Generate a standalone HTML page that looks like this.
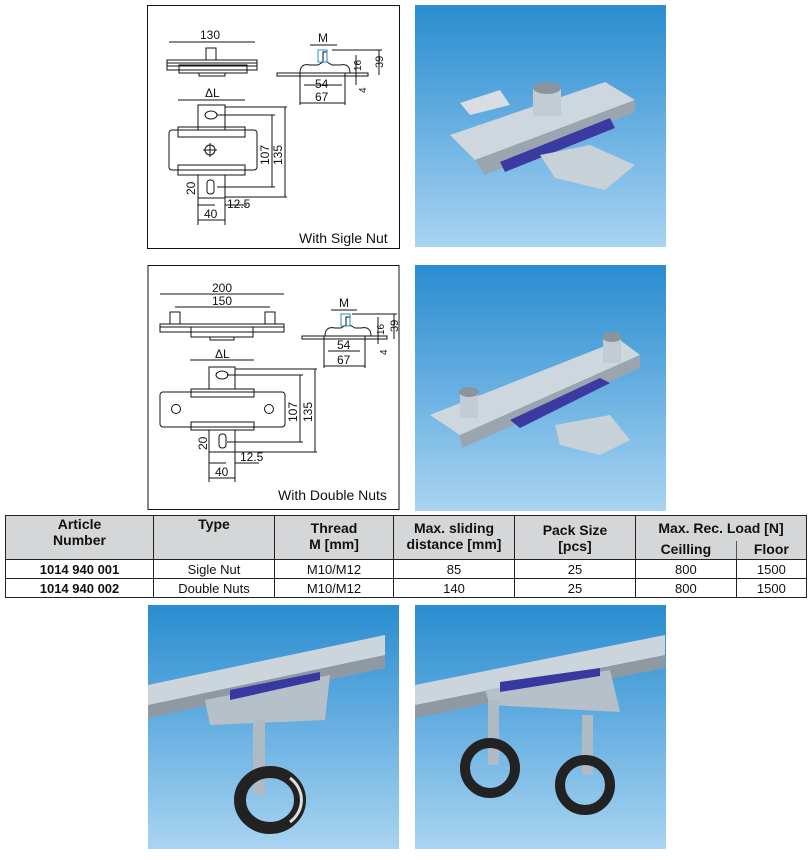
<!DOCTYPE html>
<html><head><meta charset="utf-8"><style>
body{margin:0;background:#fff;width:812px;height:860px;position:relative;overflow:hidden;font-family:"Liberation Sans",Arial,sans-serif}
.ph{position:absolute;background:linear-gradient(#2a8dcf,#5aa8de 40%,#a9d4f1 100%)}
table{position:absolute;left:5px;top:515px;width:802px;border-collapse:collapse;font-size:13px;color:#111}
td{border:1px solid #222;text-align:center;padding:0;height:18px}
.h td{background:#d4d6d8;font-weight:bold;font-size:14px;vertical-align:top;line-height:16px}
</style></head><body>
<svg width="812" height="860" style="position:absolute;left:0;top:0" font-family="Liberation Sans, Arial, sans-serif" stroke="#111" fill="none" stroke-width="1">
<!-- drawing 1 -->
<g transform="translate(147,5)">
<rect x="0.5" y="0.5" width="252" height="243" stroke-width="1"/>
<line x1="22" y1="37" x2="108" y2="37"/><text x="53" y="34" font-size="12" fill="#111" stroke="none">130</text>
<rect x="20" y="55" width="90" height="10"/><line x1="20" y1="58" x2="110" y2="58"/><line x1="20" y1="61" x2="110" y2="61"/>
<rect x="59" y="43" width="10" height="12"/><rect x="32" y="60" width="68" height="8"/><rect x="52" y="68" width="26" height="3"/>
<rect x="130" y="68" width="91" height="3"/><path d="M153 68 q0-10 10-8 h8 l5 -3 v-10 h4 v10 l5 3 h8 q10-2 10 8"/>
<rect x="171" y="45" width="9" height="12" stroke="#1a8fd0"/>
<text x="171" y="37" font-size="12" fill="#111" stroke="none">M</text><line x1="163" y1="40" x2="190" y2="40"/>
<line x1="185" y1="45" x2="235" y2="45"/><line x1="232" y1="45" x2="232" y2="70"/><text x="236" y="63" font-size="11" fill="#111" stroke="none" transform="rotate(-90 236 63)">39</text>
<line x1="209" y1="50" x2="209" y2="80"/><text x="214" y="66" font-size="10" fill="#111" stroke="none" transform="rotate(-90 214 66)">16</text>
<text x="219" y="88" font-size="10" fill="#111" stroke="none" transform="rotate(-90 219 88)">4</text>
<line x1="157" y1="80" x2="195" y2="80"/><text x="168" y="83" font-size="12" fill="#111" stroke="none">54</text>
<line x1="153" y1="98" x2="198" y2="98"/><text x="168" y="96" font-size="12" fill="#111" stroke="none">67</text>
<line x1="153" y1="68" x2="153" y2="100"/><line x1="198" y1="68" x2="198" y2="100"/>
<line x1="31" y1="95" x2="98" y2="95"/><text x="58" y="92" font-size="12" fill="#111" stroke="none">ΔL</text>
<path d="M51 125 v-25 h27 v25"/><ellipse cx="64" cy="110" rx="6" ry="4"/>
<rect x="22" y="125" width="88" height="40" rx="3"/>
<rect x="31" y="122" width="67" height="10"/><rect x="31" y="160" width="67" height="10"/>
<circle cx="63" cy="145" r="5"/><line x1="56" y1="145" x2="70" y2="145"/><line x1="63" y1="138" x2="63" y2="152"/>
<path d="M51 170 v23 h27 v-23"/><rect x="60" y="175" width="7" height="14" rx="3"/>
<line x1="70" y1="110" x2="128" y2="110"/><line x1="125" y1="110" x2="125" y2="182"/><line x1="70" y1="182" x2="128" y2="182"/>
<line x1="78" y1="102" x2="140" y2="102"/><line x1="138" y1="102" x2="138" y2="192"/><line x1="78" y1="192" x2="140" y2="192"/>
<text x="122" y="160" font-size="12" fill="#111" stroke="none" transform="rotate(-90 122 160)">107</text>
<text x="135" y="160" font-size="12" fill="#111" stroke="none" transform="rotate(-90 135 160)">135</text>
<text x="48" y="190" font-size="12" fill="#111" stroke="none" transform="rotate(-90 48 190)">20</text>
<line x1="51" y1="200" x2="68" y2="200"/><line x1="78" y1="200" x2="100" y2="200"/><text x="80" y="203" font-size="12" fill="#111" stroke="none">12.5</text>
<line x1="51" y1="215" x2="78" y2="215"/><text x="57" y="213" font-size="12" fill="#111" stroke="none">40</text>
<line x1="51" y1="193" x2="51" y2="220"/><line x1="78" y1="193" x2="78" y2="220"/>
<text x="152" y="238" font-size="14" fill="#111" stroke="none">With Sigle Nut</text>
</g>
<!-- drawing 2 -->
<g transform="translate(147,262)">
<rect x="1" y="3.5" width="251" height="244" stroke-width="1"/>
<line x1="13" y1="32" x2="137" y2="32"/><text x="65" y="30" font-size="12" fill="#111" stroke="none">200</text>
<line x1="28" y1="45" x2="123" y2="45"/><text x="65" y="43" font-size="12" fill="#111" stroke="none">150</text>
<rect x="23" y="50" width="10" height="12"/><rect x="118" y="50" width="10" height="12"/>
<rect x="13" y="62" width="124" height="8"/><line x1="13" y1="65" x2="137" y2="65"/>
<rect x="44" y="65" width="62" height="10"/><rect x="63" y="75" width="24" height="3"/>
<rect x="155" y="74" width="85" height="3"/><path d="M178 74 q0-10 10-8 h6 l5-3 v-8 h4 v8 l5 3 h6 q10-2 10 8"/>
<rect x="194" y="52" width="9" height="12" stroke="#1a8fd0"/>
<text x="192" y="45" font-size="12" fill="#111" stroke="none">M</text><line x1="184" y1="48" x2="210" y2="48"/>
<line x1="205" y1="52" x2="250" y2="52"/><line x1="247" y1="52" x2="247" y2="77"/><text x="251" y="70" font-size="11" fill="#111" stroke="none" transform="rotate(-90 251 70)">39</text>
<line x1="231" y1="55" x2="231" y2="82"/><text x="237" y="73" font-size="10" fill="#111" stroke="none" transform="rotate(-90 237 73)">16</text>
<text x="240" y="93" font-size="10" fill="#111" stroke="none" transform="rotate(-90 240 93)">4</text>
<line x1="181" y1="89" x2="213" y2="89"/><text x="190" y="87" font-size="12" fill="#111" stroke="none">54</text>
<line x1="177" y1="104" x2="218" y2="104"/><text x="190" y="102" font-size="12" fill="#111" stroke="none">67</text>
<line x1="177" y1="74" x2="177" y2="106"/><line x1="218" y1="74" x2="218" y2="106"/>
<line x1="43" y1="98" x2="107" y2="98"/><text x="68" y="96" font-size="12" fill="#111" stroke="none">ΔL</text>
<path d="M62 127 v-22 h26 v22"/><ellipse cx="75" cy="113" rx="6" ry="4"/>
<rect x="13" y="130" width="125" height="35" rx="3"/>
<rect x="44" y="127" width="63" height="8"/><rect x="44" y="160" width="63" height="8"/>
<circle cx="29" cy="147" r="4.5"/><circle cx="122" cy="147" r="4.5"/>
<path d="M62 168 v22 h26 v-22"/><rect x="72" y="172" width="7" height="14" rx="3"/>
<line x1="80" y1="113" x2="156" y2="113"/><line x1="153" y1="113" x2="153" y2="180"/><line x1="80" y1="180" x2="156" y2="180"/>
<line x1="88" y1="107" x2="170" y2="107"/><line x1="168" y1="107" x2="168" y2="190"/><line x1="88" y1="190" x2="170" y2="190"/>
<text x="150" y="160" font-size="12" fill="#111" stroke="none" transform="rotate(-90 150 160)">107</text>
<text x="165" y="160" font-size="12" fill="#111" stroke="none" transform="rotate(-90 165 160)">135</text>
<text x="60" y="188" font-size="12" fill="#111" stroke="none" transform="rotate(-90 60 188)">20</text>
<line x1="62" y1="201" x2="79" y2="201"/><line x1="88" y1="201" x2="112" y2="201"/><text x="93" y="199" font-size="12" fill="#111" stroke="none">12.5</text>
<line x1="62" y1="216" x2="88" y2="216"/><text x="68" y="214" font-size="12" fill="#111" stroke="none">40</text>
<line x1="62" y1="190" x2="62" y2="220"/><line x1="88" y1="190" x2="88" y2="220"/>
<text x="131" y="238" font-size="14" fill="#111" stroke="none">With Double Nuts</text>
</g>
</svg>

<div class="ph" style="left:415px;top:5px;width:251px;height:242px"></div>
<div class="ph" style="left:415px;top:265px;width:251px;height:246px"></div>
<div class="ph" style="left:148px;top:605px;width:251px;height:244px"></div>
<div class="ph" style="left:415px;top:605px;width:251px;height:244px"></div>
<svg width="812" height="860" style="position:absolute;left:0;top:0">
<!-- photo 1 product -->
<polygon points="460,103 500,90 510,105 470,115" fill="#d7dde3"/>
<polygon points="450,135 605,82 635,100 475,160" fill="#cfd7de"/>
<polygon points="475,160 635,100 635,112 485,175" fill="#9aa5af"/>
<polygon points="500,162 610,118 615,128 505,172" fill="#3a3aa0"/>
<polygon points="540,155 590,145 635,165 605,190 555,178" fill="#c8d0d8"/>
<rect x="533" y="88" width="28" height="28" fill="#c3ccd4"/><ellipse cx="547" cy="88" rx="14" ry="6" fill="#8a949e"/>
<!-- photo 2 product -->
<polygon points="430,415 620,340 640,355 460,435" fill="#cfd7de"/>
<polygon points="460,435 640,355 640,368 462,448" fill="#9aa5af"/>
<polygon points="510,420 600,378 610,383 520,428" fill="#3a3aa0"/>
<polygon points="555,425 610,415 630,440 600,455 560,445" fill="#c8d0d8"/>
<rect x="460" y="390" width="18" height="28" fill="#c3ccd4"/><ellipse cx="469" cy="392" rx="10" ry="5" fill="#8a949e"/>
<rect x="603" y="335" width="18" height="28" fill="#c3ccd4"/><ellipse cx="612" cy="337" rx="10" ry="5" fill="#8a949e"/>
<!-- bottom left -->
<polygon points="148,685 385,635 385,660 148,715" fill="#cdd5dc"/>
<polygon points="148,705 385,655 385,668 148,718" fill="#8e99a4"/>
<polygon points="205,700 330,675 325,720 210,725" fill="#b6c0c9"/>
<polygon points="230,690 320,672 320,680 230,700" fill="#3838a0"/>
<rect x="253" y="720" width="12" height="75" fill="#b0bac3"/>
<ellipse cx="270" cy="800" rx="30" ry="28" fill="none" stroke="#222" stroke-width="12"/>
<path d="M290 778 a30 28 0 0 1 0 44" fill="none" stroke="#ddd" stroke-width="3"/>
<!-- bottom right -->
<polygon points="415,685 665,635 665,660 415,715" fill="#cdd5dc"/>
<polygon points="415,705 665,655 665,668 415,718" fill="#8e99a4"/>
<polygon points="485,690 610,670 620,712 490,705" fill="#b6c0c9"/>
<polygon points="500,682 600,668 600,676 500,692" fill="#3838a0"/>
<rect x="488" y="700" width="11" height="65" fill="#b0bac3"/>
<rect x="582" y="715" width="11" height="60" fill="#b0bac3"/>
<ellipse cx="490" cy="768" rx="25" ry="25" fill="none" stroke="#222" stroke-width="10"/>
<ellipse cx="585" cy="785" rx="25" ry="25" fill="none" stroke="#222" stroke-width="10"/>
</svg>

<table>
<tr class="h"><td rowspan="2" style="width:147px;height:43px">Article<br>Number</td><td rowspan="2" style="width:120px">Type</td><td rowspan="2" style="width:118px;padding-top:4px">Thread<br>M [mm]</td><td rowspan="2" style="width:120px;padding-top:4px">Max. sliding<br>distance [mm]</td><td rowspan="2" style="width:120px;padding-top:6px">Pack Size<br>[pcs]</td><td colspan="2" style="border-bottom:none;height:20px;padding-top:4px">Max. Rec. Load [N]</td></tr>
<tr class="h"><td style="border-top:none;border-right:1px solid #555;height:18px">Ceilling</td><td style="border-top:none">Floor</td></tr>
<tr><td style="font-weight:bold">1014 940 001</td><td>Sigle Nut</td><td>M10/M12</td><td>85</td><td>25</td><td>800</td><td>1500</td></tr>
<tr><td style="font-weight:bold">1014 940 002</td><td>Double Nuts</td><td>M10/M12</td><td>140</td><td>25</td><td>800</td><td>1500</td></tr>
</table>
</body></html>
